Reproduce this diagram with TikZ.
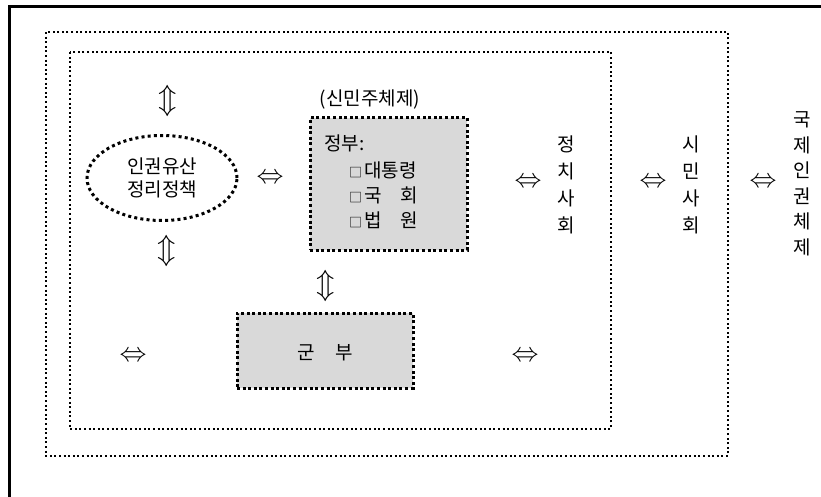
\documentclass[tikz,border=0pt]{standalone}
\usepackage{fontspec}
\usepackage{graphicx}
\setmainfont{Noto Sans CJK KR}
\usetikzlibrary{shapes.geometric}
\tikzset{
  frame/.style={line width=2.5pt},
  rimdots/.style={line width=2.2pt, dash pattern=on 2pt off 2.6pt},
  boxdots/.style={draw, line width=3pt, dash pattern=on 3pt off 2.6pt, fill=gray!30, inner sep=0pt},
  ovaldots/.style={draw, ellipse, line width=3pt, dash pattern=on 3pt off 3.2pt, inner sep=0pt, minimum width=150pt, minimum height=85pt, align=center},
  kor/.style={font=\fontsize{19}{23}\selectfont, inner sep=0pt},
  vert/.style={align=center, inner sep=0pt},
  harrow/.style={inner sep=0pt, font=\huge},
}
\newcommand{\sq}{{\fontsize{13}{13}\selectfont □}\hspace{2pt}}
\newcommand{\lrarr}{\scalebox{1.3}{$\Leftrightarrow$}}
\newcommand{\udarr}{\scalebox{1.45}{$\Updownarrow$}}
\begin{document}
\begin{tikzpicture}[x=1pt,y=-1pt]
\useasboundingbox (0,0) rectangle (821,497);
% outer frame (cut by the page)
\draw[frame] (9.5,520) -- (9.5,6.5) -- (840,6.5);
% dotted regions
\draw[rimdots] (46,32) rectangle (728,456);
\draw[rimdots] (70,52) rectangle (611,429);
% title
\node[kor] (title) at (370,100) {(신민주체제)};
% ellipse
\node[ovaldots, font=\fontsize{19}{23}\selectfont] (oval) at (162,178) {인권유산\\정리정책};
% government box
\node[boxdots, minimum width=157pt, minimum height=132pt] (gov) at (388.5,184) {};
\node[kor, anchor=west] (govt) at (324,143) {정부:};
\node[kor, anchor=west] (g1) at (349,170) {\sq 대통령};
\node[kor, anchor=west] (g2) at (349,195) {\sq 국\hspace{19pt}회};
\node[kor, anchor=west] (g3) at (349,220) {\sq 법\hspace{19pt}원};
% military box
\node[boxdots, minimum width=176pt, minimum height=75pt] (mil) at (325,350.5) {};
\node[kor] (milt) at (325,353) {군\hspace{21pt}부};
% vertical labels
\node[kor, vert, font=\fontsize{19}{27}\selectfont] (pol) at (566,185) {정\\치\\사\\회};
\node[kor, vert, font=\fontsize{19}{27}\selectfont] (civ) at (691,185) {시\\민\\사\\회};
\node[kor, vert, font=\fontsize{19}{25.5}\selectfont] (intl) at (802,184) {국\\제\\인\\권\\체\\제};
% arrows
\node[harrow] (a1) at (168,101) {\udarr};
\node[harrow] (a2) at (167,251) {\udarr};
\node[harrow] (a3) at (326,286) {\udarr};
\node[harrow] (a4) at (270,179) {\lrarr};
\node[harrow] (a5) at (528,183) {\lrarr};
\node[harrow] (a6) at (653,183) {\lrarr};
\node[harrow] (a7) at (763,183) {\lrarr};
\node[harrow] (a8) at (133,357) {\lrarr};
\node[harrow] (a9) at (525,357) {\lrarr};
\end{tikzpicture}
\end{document}
